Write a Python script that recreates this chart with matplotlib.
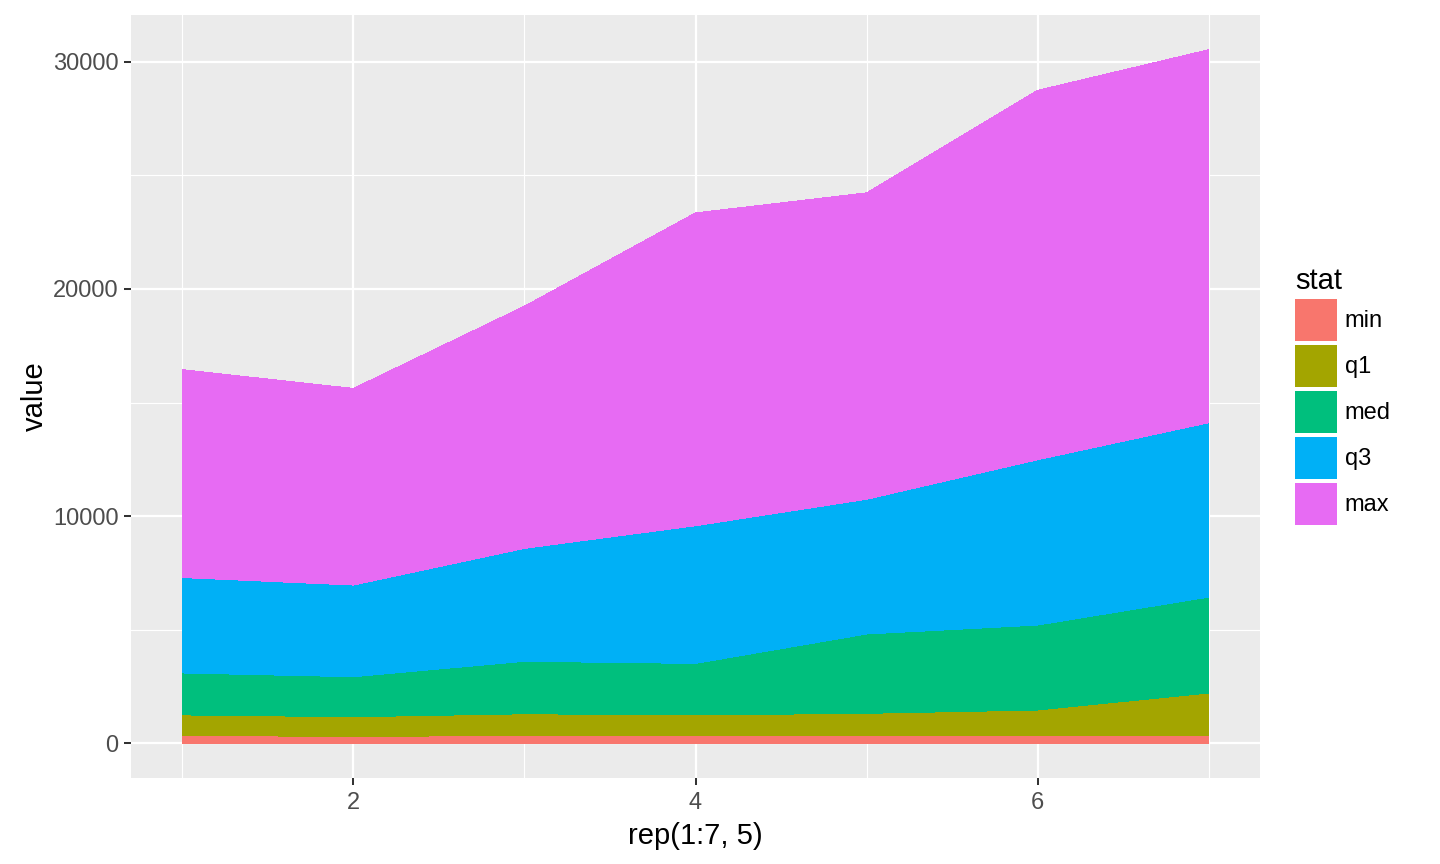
import numpy as np
import matplotlib.pyplot as plt
from matplotlib.patches import Patch
from matplotlib.ticker import MultipleLocator

plt.rcParams['font.family'] = ['Liberation Sans', 'DejaVu Sans']

# data: x positions and the per-stat values (stacked by the area chart)
x = [1, 2, 3, 4, 5, 6, 7]
stats = ['min', 'q1', 'med', 'q3', 'max']
v_min = [350, 300, 350, 350, 350, 350, 350]
v_q1 = [900, 870, 950, 900, 970, 1115, 1865]
v_med = [1846, 1760, 2310, 2266, 3490, 3740, 4220]
v_q3 = [4200, 4035, 4970, 6060, 5930, 7275, 7675]
v_max = [9150, 8655, 10660, 13770, 13490, 16260, 16420]
colors = ['#F8766D', '#A3A500', '#00BF7D', '#00B0F6', '#E76BF3']

fig = plt.figure(figsize=(14.4, 8.64), dpi=100)
ax = fig.add_axes([131/1440, 1-778/864, (1260-131)/1440, (778-15)/864])
ax.set_facecolor('#EBEBEB')

ax.stackplot(x, v_min, v_q1, v_med, v_q3, v_max, colors=colors,
             linewidth=0, antialiased=False, zorder=3)

total = np.sum([v_min, v_q1, v_med, v_q3, v_max], axis=0)
xr = max(x) - min(x)
ax.set_xlim(min(x) - 0.05*xr, max(x) + 0.05*xr)
ax.set_ylim(-0.05*total.max(), total.max()*1.05)

ax.xaxis.set_major_locator(MultipleLocator(2))
ax.xaxis.set_minor_locator(MultipleLocator(1))
ax.yaxis.set_major_locator(MultipleLocator(10000))
ax.yaxis.set_minor_locator(MultipleLocator(5000))
ax.grid(which='major', color='white', linewidth=1.6, zorder=1)
ax.grid(which='minor', color='white', linewidth=0.8, zorder=1)
ax.set_axisbelow(True)
for s in ax.spines.values():
    s.set_visible(False)

ax.tick_params(which='major', length=5, width=1.45, color='#333333',
               labelsize=17, labelcolor='#4D4D4D', pad=4)
ax.tick_params(axis='x', which='major', pad=5)
ax.tick_params(which='minor', length=0)

ax.set_xlabel('rep(1:7, 5)', fontsize=21, labelpad=6)
ax.set_ylabel('value', fontsize=21, labelpad=3)

handles = [Patch(facecolor=c, edgecolor='none') for c in colors]
leg = fig.legend(handles, stats, title='stat', loc='center left',
                 bbox_to_anchor=(1295/1440, 1-396/864), frameon=False,
                 fontsize=17, title_fontsize=21, handlelength=1.78,
                 handleheight=2.36, labelspacing=0.17, handletextpad=0.33,
                 borderpad=0, borderaxespad=0)
leg._legend_box.align = 'left'

fig.savefig('out.png', dpi=100)
